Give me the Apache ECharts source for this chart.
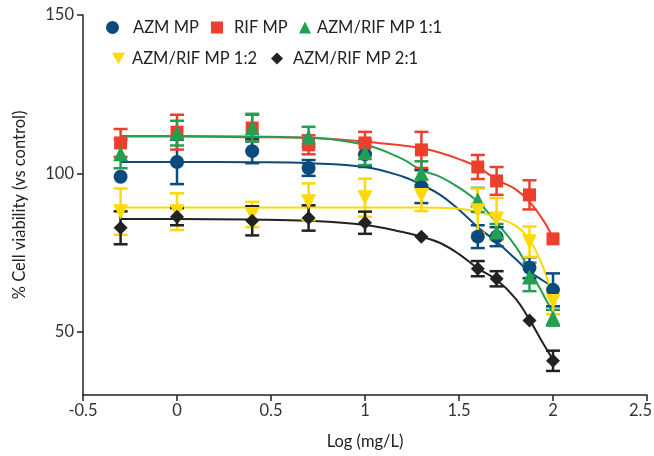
<!DOCTYPE html>
<html><head><meta charset="utf-8">
<script src="https://cdn.jsdelivr.net/npm/echarts@6/dist/echarts.min.js"></script>
<style>html,body{margin:0;padding:0;background:#fff}#c{width:654px;height:456px}</style>
</head><body><div id="c"></div>
<script>
// Doses (log mg/L)
const xs = [-0.3, 0, 0.4, 0.7, 1.0, 1.3, 1.6, 1.7, 1.875, 2.0];
const seriesNames = ['AZM MP', 'RIF MP', 'AZM/RIF MP 1:1', 'AZM/RIF MP 1:2', 'AZM/RIF MP 2:1'];
// Mean % viability
const azmMean   = [98.9, 103.6, 107, 101.7, 106, 95.8, 80, 80, 70.2, 63.2];
const rifMean   = [109.6, 113, 114.3, 109, 109.6, 107.4, 102, 97.6, 93.2, 79.3];
const m11Mean   = [106.2, 112.7, 114.4, 111.5, 106.5, 100, 91.6, 81.5, 67.3, 54.4];
const m12Mean   = [87.9, 87.9, 87, 91, 92.3, 93, 88.2, 85.6, 78.4, 59.5];
const m21Mean   = [82.8, 86.3, 85, 85.9, 84.4, 80, 69.9, 66.7, 53.5, 40.8];
// Error (+/-)
const azmErr = [0, 7, 3.8, 2.5, 4, 5.2, 3.6, 3, 3.3, 5.2];
const rifErr = [4.4, 5.5, 4.2, 3, 3.5, 5.7, 3.8, 4.4, 4.6, 0];
const m11Err = [4.6, 3.9, 4.4, 3.2, 3.9, 3.8, 3.8, 2.5, 4.5, 2.5];
const m12Err = [7.3, 5.8, 4, 5.8, 6, 4.9, 7, 6.6, 4.8, 4];
const m21Err = [5.2, 2.7, 4.6, 4, 3.5, 0, 2.4, 2.4, 0, 3.2];
// Fitted curves
const curveX   = [-0.3, 0, 0.4, 0.7, 1.0, 1.2, 1.3, 1.4, 1.5, 1.6, 1.7, 1.8, 1.875, 1.95, 2.0];
const azmCurve = [103.6, 103.6, 103.5, 103.2, 102, 99, 96.4, 93.2, 88.5, 83, 78.4, 73, 69, 66, 64.2];
const rifCurve = [111.6, 111.6, 111.4, 111.2, 110, 108.8, 108, 106.5, 104.5, 102, 98, 95, 91, 85, 79.6];
const m11Curve = [111.8, 111.8, 111.6, 111.2, 109, 104.5, 101, 98.9, 95.5, 91, 84.4, 77, 69.6, 61.5, 56];
const m12Curve = [89.2, 89.2, 89.2, 89.2, 89.2, 89.2, 89.2, 89.1, 88.8, 87.9, 86, 83.5, 79, 70, 60];
const m21Curve = [85.6, 85.6, 85.4, 85, 83.7, 81.5, 80, 78, 74.5, 70, 66.4, 60.5, 53.8, 46, 41.2];
const yTicks = [50, 100, 150];

const colors = ['#0b4a7d', '#ee3f2c', '#23a04f', '#ffd900', '#222222'];
const downTri = 'path://M0,0 L10,0 L5,9 Z';
const symbols = ['circle', 'rect', 'triangle', downTri, 'diamond'];
const symSizes = [14, 13, 15, 15, 14];
const means = [azmMean, rifMean, m11Mean, m12Mean, m21Mean];
const errs = [azmErr, rifErr, m11Err, m12Err, m21Err];
const curves = [azmCurve, rifCurve, m11Curve, m12Curve, m21Curve];

const series = [];
for (let i = 0; i < 5; i++) {
  series.push({
    name: 'fit' + i, type: 'line', smooth: 0.4, showSymbol: false, silent: true,
    data: curveX.map((x, k) => [x, curves[i][k]]),
    lineStyle: { color: colors[i], width: 2 }, z: 2
  });
}
for (let i = 0; i < 5; i++) {
  series.push({
    name: 'err' + i, type: 'custom', silent: true, z: 3,
    data: xs.map((x, k) => [x, means[i][k] - errs[i][k], means[i][k] + errs[i][k]]),
    renderItem: function (params, api) {
      const lo = api.coord([api.value(0), api.value(1)]);
      const hi = api.coord([api.value(0), api.value(2)]);
      if (Math.abs(lo[1] - hi[1]) < 0.5) return null;
      const w = 7;
      const st = { stroke: colors[i], lineWidth: 2.5 };
      return { type: 'group', children: [
        { type: 'line', shape: { x1: lo[0], y1: lo[1], x2: hi[0], y2: hi[1] }, style: st },
        { type: 'line', shape: { x1: lo[0] - w, y1: lo[1], x2: lo[0] + w, y2: lo[1] }, style: st },
        { type: 'line', shape: { x1: hi[0] - w, y1: hi[1], x2: hi[0] + w, y2: hi[1] }, style: st }
      ]};
    }
  });
}
for (let i = 0; i < 5; i++) {
  series.push({
    name: seriesNames[i], type: 'scatter', symbol: symbols[i], symbolSize: symSizes[i],
    data: xs.map((x, k) => [x, means[i][k]]),
    itemStyle: { color: colors[i], opacity: 1 }, z: 4
  });
}

const FONT = 'Lato';
const FS = 16.5;
function mkLegend(idx, icon, left, top, size, pad) {
  return {
    data: [{ name: seriesNames[idx], icon: icon }],
    left: left, top: top, itemWidth: size, itemHeight: size, padding: 0,
    textStyle: { fontFamily: FONT, fontSize: FS, color: '#222', padding: [0, 0, 0, pad] }
  };
}

const chart = echarts.init(document.getElementById('c'), null, { renderer: 'canvas' });
chart.setOption({
  animation: false,
  backgroundColor: '#fff',
  grid: { left: 83, right: 7, top: 15, bottom: 61, outerBoundsMode: 'none', containLabel: false },
  legend: [
    mkLegend(0, 'circle', 106, 19, 13, 9),
    mkLegend(1, 'rect', 211, 19, 12, 6),
    mkLegend(2, 'triangle', 299, 19, 12, 1),
    mkLegend(3, downTri, 112, 50, 13, 2),
    mkLegend(4, 'diamond', 271, 50, 12, 5)
  ],
  xAxis: {
    type: 'value', min: -0.5, max: 2.5, interval: 0.5,
    name: 'Log (mg/L)', nameLocation: 'middle', nameGap: 38,
    nameTextStyle: { fontFamily: FONT, fontSize: FS, color: '#222' },
    axisLine: { show: true, onZero: false, lineStyle: { color: '#222', width: 1.5 } },
    axisTick: { show: true, length: 6, lineStyle: { color: '#222', width: 1.5 } },
    axisLabel: {
      fontFamily: FONT, fontSize: FS, color: '#333', margin: 7,
      formatter: function (v) { return v === 2.5 ? '{last|' + v + '}' : String(v); },
      rich: { last: { fontFamily: FONT, fontSize: FS, color: '#333', padding: [0, 13, 0, 0] } }
    },
    splitLine: { show: false }
  },
  yAxis: {
    type: 'value', min: 30, max: 150,
    name: '% Cell viability (vs control)', nameLocation: 'middle', nameGap: 55,
    nameTextStyle: { fontFamily: FONT, fontSize: FS, color: '#222' },
    axisLine: { show: true, onZero: false, lineStyle: { color: '#222', width: 1.5 } },
    axisTick: { show: true, length: 6, customValues: yTicks, lineStyle: { color: '#222', width: 1.5 } },
    axisLabel: { fontFamily: FONT, fontSize: FS, color: '#333', margin: 9, customValues: yTicks },
    splitLine: { show: false }
  },
  series: series
});
</script></body></html>
